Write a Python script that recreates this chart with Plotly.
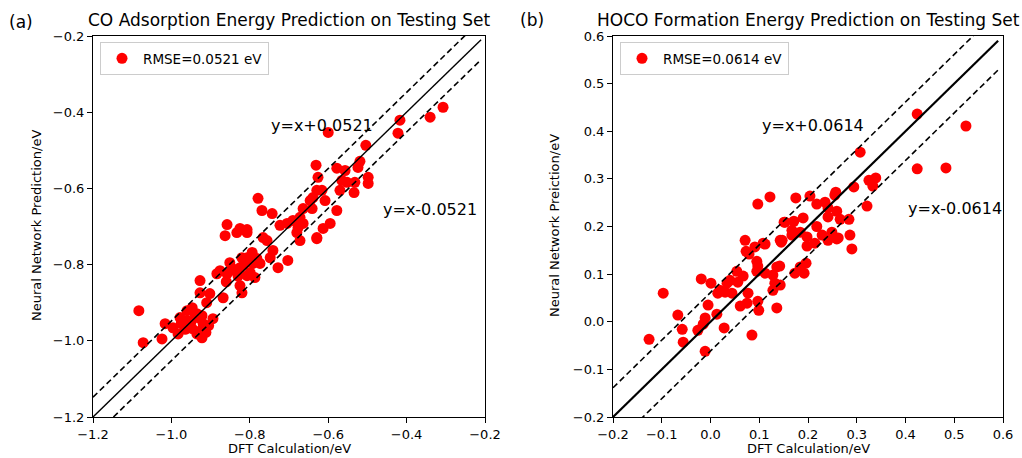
import plotly.graph_objects as go

# ---- Data: CO adsorption energy (panel a) ----
co_dft = [-1.083, -1.072, -1.024, -1.016, -0.996, -0.983, -0.978, -0.960, -0.947, -0.935,
          -0.922, -0.919, -0.927, -0.935, -0.947, -0.960, -0.894, -0.922, -0.927, -0.902,
          -0.868, -0.927, -0.884, -0.876, -0.851, -0.858, -0.838, -0.825, -0.807, -0.794,
          -0.820, -0.807, -0.799, -0.787, -0.825, -0.820, -0.782, -0.792, -0.774, -0.748,
          -0.728, -0.703, -0.741, -0.766, -0.756, -0.863, -0.833, -0.807, -0.680, -0.672,
          -0.629, -0.600, -0.504, -0.631, -0.578, -0.557, -0.524, -0.519, -0.498, -0.498,
          -0.565, -0.552, -0.532, -0.534, -0.570, -0.626, -0.629, -0.639, -0.616, -0.608,
          -0.646, -0.641, -0.664, -0.578, -0.595, -0.613, -0.629, -0.672, -0.690, -0.705,
          -0.723, -0.664, -0.677, -0.743, -0.779, -0.769, -0.417, -0.422, -0.340, -0.307,
          -0.858, -0.825, -0.807, -0.860, -0.910, -0.940, -0.950, -0.930, -0.965, -0.975,
          -0.905, -0.912, -0.815, -0.830, -0.845]
co_nn = [-0.921, -1.005, -0.995, -0.955, -0.966, -0.982, -0.939, -0.921, -0.913, -0.929,
         -0.934, -0.955, -0.974, -0.982, -0.968, -0.947, -0.942, -0.992, -0.874, -0.876,
         -0.887, -0.842, -0.824, -0.816, -0.795, -0.824, -0.816, -0.808, -0.782, -0.768,
         -0.782, -0.829, -0.821, -0.834, -0.855, -0.874, -0.784, -0.797, -0.797, -0.782,
         -0.808, -0.789, -0.763, -0.729, -0.737, -0.724, -0.716, -0.716, -0.716, -0.737,
         -0.732, -0.453, -0.487, -0.539, -0.547, -0.553, -0.545, -0.529, -0.571, -0.587,
         -0.579, -0.584, -0.584, -0.611, -0.605, -0.571, -0.605, -0.624, -0.605, -0.632,
         -0.632, -0.653, -0.653, -0.658, -0.692, -0.705, -0.729, -0.676, -0.684, -0.692,
         -0.697, -0.692, -0.703, -0.666, -0.626, -0.658, -0.421, -0.455, -0.413, -0.387,
         -0.695, -0.705, -0.708, -0.845, -0.900, -0.930, -0.950, -0.940, -0.970, -0.955,
         -0.960, -0.978, -0.800, -0.830, -0.810]
co_rmse = 0.0521

# ---- Data: HOCO formation energy (panel b) ----
hoco_dft = [0.424, 0.524, 0.424, 0.483, 0.307, 0.325, 0.339, 0.333, 0.294, 0.257,
            0.255, 0.321, 0.204, 0.175, 0.122, 0.097, 0.218, 0.235, 0.241, 0.259,
            0.241, 0.266, 0.284, 0.190, 0.171, 0.151, 0.286, 0.290, 0.259, 0.241,
            0.214, 0.198, 0.198, 0.229, 0.184, 0.167, 0.145, 0.112, 0.091, 0.071,
            0.073, 0.079, 0.095, 0.097, 0.095, 0.112, 0.136, 0.142, 0.128, 0.132,
            0.143, 0.128, 0.173, 0.192, 0.196, 0.184, 0.136, 0.097, 0.099, 0.075,
            0.061, 0.077, 0.067, 0.054, 0.056, 0.040, 0.034, 0.044, 0.030, 0.019,
            0.015, 0.001, -0.019, -0.005, 0.013, -0.011, -0.015, -0.026, 0.028, 0.085,
            -0.011, -0.056, -0.058, -0.067, -0.097, -0.126, 0.147, 0.153, 0.167, 0.249,
            0.262, 0.218, 0.108, 0.143]
hoco_nn = [0.436, 0.411, 0.321, 0.323, 0.356, 0.297, 0.302, 0.285, 0.283, 0.272,
           0.266, 0.243, 0.264, 0.260, 0.262, 0.247, 0.247, 0.251, 0.239, 0.232,
           0.220, 0.215, 0.215, 0.218, 0.211, 0.209, 0.182, 0.153, 0.174, 0.171,
           0.165, 0.159, 0.178, 0.182, 0.188, 0.182, 0.167, 0.163, 0.157, 0.171,
           0.148, 0.142, 0.127, 0.117, 0.106, 0.102, 0.115, 0.117, 0.098, 0.081,
           0.077, 0.066, 0.102, 0.102, 0.123, 0.115, 0.029, 0.043, 0.024, 0.039,
           0.033, 0.060, 0.096, 0.106, 0.083, 0.087, 0.081, 0.060, 0.062, 0.066,
           0.060, 0.081, 0.090, 0.035, 0.016, 0.008, -0.005, -0.018, -0.013, -0.028,
           -0.062, -0.043, -0.016, 0.014, 0.060, -0.037, 0.171, 0.209, 0.192, 0.188,
           0.176, 0.200, 0.165, 0.171]
hoco_rmse = 0.0614

co_line_x = [-1.2, -0.21]
hoco_line_x = [-0.2, 0.59]
co_ticks = [-1.2, -1.0, -0.8, -0.6, -0.4, -0.2]
hoco_ticks = [-0.2, -0.1, 0.0, 0.1, 0.2, 0.3, 0.4, 0.5, 0.6]

FONT = "DejaVu Sans"
W, H = 1022, 458

fig = go.Figure()

def add_panel(xs, ys, rmse, line_x, xa, ya, legend, solid_w):
    fig.add_trace(go.Scatter(
        x=xs, y=ys, mode="markers", xaxis=xa, yaxis=ya, legend=legend,
        marker=dict(color="#ff0000", size=11, line=dict(width=0)),
        name=f"RMSE={rmse} eV", showlegend=True))
    fig.add_trace(go.Scatter(
        x=line_x, y=line_x, mode="lines", xaxis=xa, yaxis=ya, showlegend=False,
        line=dict(color="black", width=solid_w)))
    for s in (1, -1):
        fig.add_trace(go.Scatter(
            x=line_x, y=[v + s * rmse for v in line_x], mode="lines", xaxis=xa, yaxis=ya,
            showlegend=False, line=dict(color="black", width=1.6, dash="6px,3.5px")))

add_panel(co_dft, co_nn, co_rmse, co_line_x, "x", "y", "legend", 1.4)
add_panel(hoco_dft, hoco_nn, hoco_rmse, hoco_line_x, "x2", "y2", "legend2", 2.2)

ydom = [1 - 417 / H, 1 - 36 / H]
axis_common = dict(showline=True, mirror=True, linecolor="black", linewidth=1,
                   ticks="outside", ticklen=5, tickwidth=1, tickcolor="black",
                   showgrid=False, zeroline=False, tickformat=".1f", automargin=False,
                   tickfont=dict(family=FONT, size=13, color="black"))

leg_common = dict(xanchor="left", yanchor="top", bgcolor="white", bordercolor="#cccccc",
                  borderwidth=1, font=dict(family=FONT, size=13.5, color="black"),
                  itemwidth=32, tracegroupgap=0)

fig.update_layout(
    width=W, height=H, margin=dict(l=0, r=0, t=0, b=0, autoexpand=False),
    plot_bgcolor="white", paper_bgcolor="white",
    font=dict(family=FONT, color="black"),
    xaxis=dict(domain=[93 / W, 485 / W], range=[-1.2, -0.2], tickvals=co_ticks, anchor="y", **axis_common),
    yaxis=dict(domain=ydom, range=[-1.2, -0.2], tickvals=co_ticks, anchor="x", **axis_common),
    xaxis2=dict(domain=[613 / W, 1003 / W], range=[-0.2, 0.6], tickvals=hoco_ticks, anchor="y2", **axis_common),
    yaxis2=dict(domain=ydom, range=[-0.2, 0.6], tickvals=hoco_ticks, anchor="x2", **axis_common),
    legend=dict(x=100 / W, y=1 - 42 / H, **leg_common),
    legend2=dict(x=620 / W, y=1 - 42 / H, **leg_common),
)

annos = [
    dict(text="CO Adsorption Energy Prediction on Testing Set", x=289 / W, y=1 - 20 / H, size=17),
    dict(text="HOCO Formation Energy Prediction on Testing Set", x=808 / W, y=1 - 20 / H, size=17),
    dict(text="(a)", x=21 / W, y=1 - 22 / H, size=17),
    dict(text="(b)", x=532 / W, y=1 - 20 / H, size=17),
    dict(text="DFT Calculation/eV", x=289 / W, y=1 - 448 / H, size=13),
    dict(text="DFT Calculation/eV", x=808 / W, y=1 - 448 / H, size=13),
]
for a in annos:
    fig.add_annotation(text=a["text"], x=a["x"], y=a["y"], xref="paper", yref="paper",
                       showarrow=False, xanchor="center", yanchor="middle",
                       font=dict(family=FONT, size=a["size"], color="black"))
for txt, xp in (("Neural Network Prediction/eV", 37), ("Neural Network Preiction/eV", 555)):
    fig.add_annotation(text=txt, x=xp / W, y=1 - 226 / H, xref="paper", yref="paper",
                       showarrow=False, textangle=-90, xanchor="center", yanchor="middle",
                       font=dict(family=FONT, size=13, color="black"))

# line labels in data coordinates
fig.add_annotation(text=f"y=x+{co_rmse}", x=-0.616, y=-0.434, xref="x", yref="y", showarrow=False,
                   font=dict(family=FONT, size=16, color="black"))
fig.add_annotation(text=f"y=x-{co_rmse}", x=-0.340, y=-0.655, xref="x", yref="y", showarrow=False,
                   font=dict(family=FONT, size=16, color="black"))
fig.add_annotation(text=f"y=x+{hoco_rmse}", x=0.210, y=0.413, xref="x2", yref="y2", showarrow=False,
                   font=dict(family=FONT, size=16, color="black"))
fig.add_annotation(text=f"y=x-{hoco_rmse}", x=0.502, y=0.237, xref="x2", yref="y2", showarrow=False,
                   font=dict(family=FONT, size=16, color="black"))

fig.write_html("out.html", config={"displayModeBar": False},
               post_script="document.body.style.margin='0';document.body.style.overflow='hidden';")
